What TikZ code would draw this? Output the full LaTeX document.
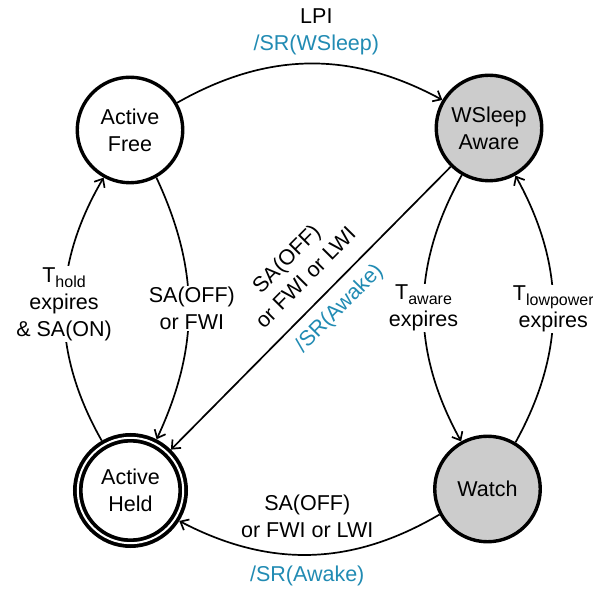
\documentclass[tikz,border=0pt]{standalone}
\usepackage{fontspec}
\setmainfont{Liberation Sans}
\usetikzlibrary{arrows.meta}
\definecolor{srblue}{RGB}{33,139,179}
\definecolor{stgray}{RGB}{204,204,204}
\newcommand\lblfont{\fontsize{21.5}{27}\selectfont}
\newcommand\tsub[1]{\raisebox{-5pt}{\fontsize{16}{16}\selectfont #1}}
\begin{document}
\begin{tikzpicture}[x=1pt,y=1pt,
  state/.style={circle, draw, line width=3.4pt, minimum size=105.5pt, inner sep=0pt, align=center, font=\lblfont},
  shaded/.style={state, fill=stgray},
  held/.style={state, line width=3.8pt, double=white, double distance=2pt, minimum size=105.4pt, outer sep=4.8pt},
  trans/.style={line width=1.7pt, -{Straight Barb[length=7pt,width=12pt,line width=1.7pt]}},
  lab/.style={fill=white, inner sep=1pt, align=center, font=\lblfont},
  freelab/.style={inner sep=0pt, align=center, font=\lblfont},
  bluelab/.style={freelab, text=srblue}
]
\useasboundingbox (0,0) rectangle (593,588);
\node[state]  (AF) at (130,458)   {Active\\Free};
\node[shaded] (WA) at (489,460)   {WSleep\\Aware};
\node[held]   (AH) at (130.5,97.5) {Active\\Held};
\node[shaded] (W)  at (487.5,99)  {Watch};

\draw[trans] (AF.30) to[bend left=29]
  node[freelab, above=8pt, xshift=7pt] {LPI\\\textcolor{srblue}{/SR(WSleep)}} (WA.149);
\draw[trans] (AF.-61) to[bend left=25]
  node[lab, xshift=3pt] {SA(OFF)\\or FWI} (AH.63);
\draw[trans] (AH.120) to[bend left=30]
  node[lab, yshift=5pt] {T\tsub{hold}\\expires\\\& SA(ON)} (AF.-119);
\draw[trans] (WA) --
  node[freelab, sloped, pos=0.455, above=17pt] {SA(OFF)\\or FWI or LWI}
  node[bluelab, sloped, pos=0.45, below=10pt] {/SR(Awake)} (AH);
\draw[trans] (WA.-120) to[bend right=29]
  node[lab] {T\tsub{aware}\\expires} (W.119.6);
\draw[trans] (W.59) to[bend right=29]
  node[lab] {T\tsub{lowpower}\\expires} (WA.-61);
\draw[trans] (W.208) to[bend left=29]
  node[freelab, above=16pt, xshift=-3pt] {SA(OFF)\\or FWI or LWI}
  node[bluelab, below=10pt, xshift=-3pt] {/SR(Awake)} (AH.-32.5);
\end{tikzpicture}
\end{document}
